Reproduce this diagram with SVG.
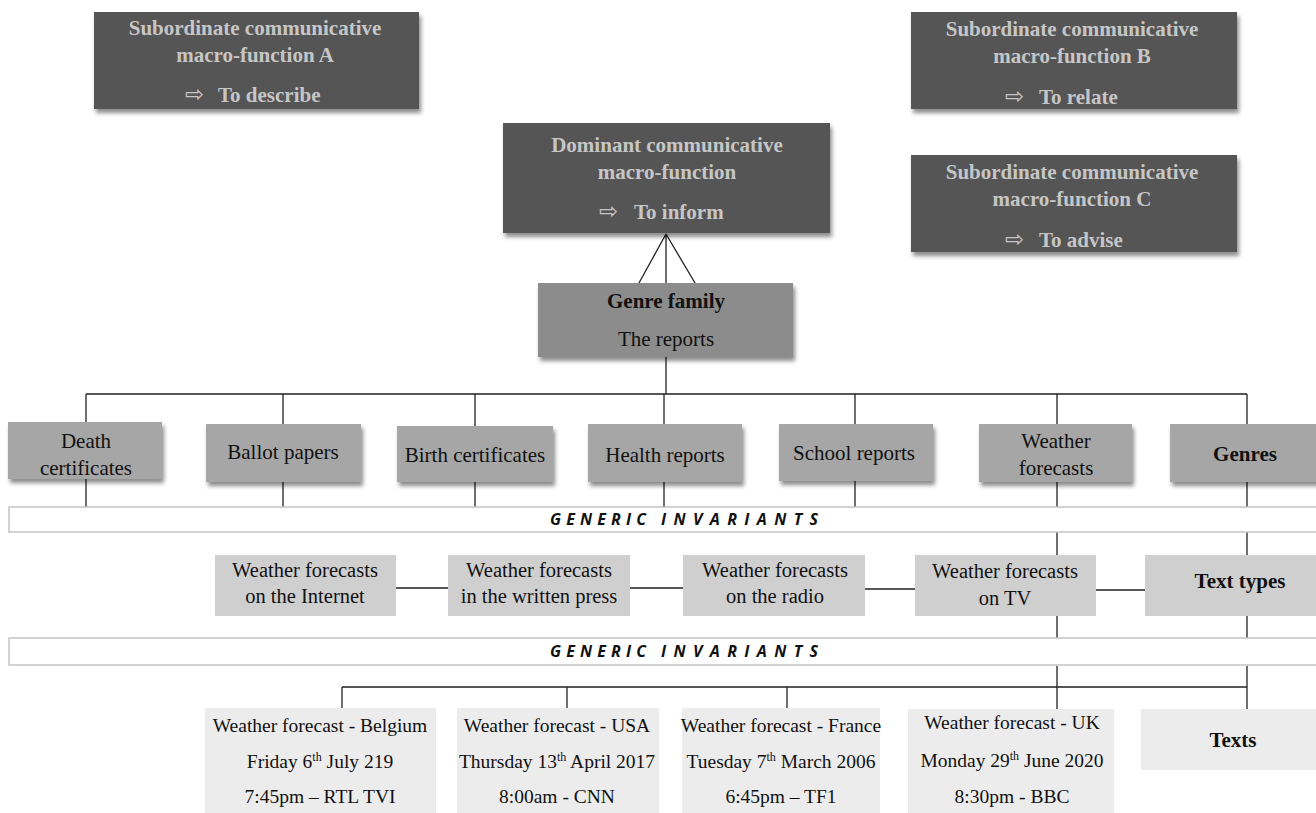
<svg xmlns="http://www.w3.org/2000/svg" width="1316" height="813" viewBox="0 0 1316 813">
<defs>
<filter id="sh" x="-10%" y="-10%" width="130%" height="140%">
<feDropShadow dx="2" dy="4" stdDeviation="2" flood-color="#000" flood-opacity="0.45"/>
</filter>
<style>
.dark{fill:#545454;filter:url(#sh)}
.fam{fill:#8c8c8c;filter:url(#sh)}
.gen{fill:#a6a6a6;filter:url(#sh)}
.tt{fill:#d0cfd0}
.tx{fill:#ececec}
.band{fill:#fff;stroke:#c4c4c4;stroke-width:1.5}
.dt{font-family:"Liberation Serif","Times New Roman",serif;font-weight:bold;font-size:21px;fill:#c6c6c6;text-anchor:middle}
.dl{font-family:"Liberation Serif","Times New Roman",serif;font-weight:bold;font-size:21px;fill:#c6c6c6}
.ar{font-family:"DejaVu Sans",sans-serif;font-size:23px;fill:#c6c6c6}
.t21{font-family:"Liberation Serif","Times New Roman",serif;font-size:21px;fill:#111;text-anchor:middle}
.t20{font-family:"Liberation Serif","Times New Roman",serif;font-size:20.5px;fill:#111;text-anchor:middle}
.t19{font-family:"Liberation Serif","Times New Roman",serif;font-size:19.5px;fill:#111;text-anchor:middle}
.b{font-weight:bold}
.sup{font-size:12px}
.inv{font-family:"Open Sans","Liberation Sans",sans-serif;font-weight:bold;font-style:italic;font-size:16px;fill:#111}
.ln{stroke:#222;stroke-width:1.3;fill:none}
</style>
</defs>
<rect width="1316" height="813" fill="#fff"/>

<g id="connectors">
<path class="ln" d="M666 234 L639 283 M666 234 L666 283 M666 234 L695 283"/>
<path class="ln" d="M666 345 L666 394 M86 394 L1247 394"/>
<path class="ln" d="M86 394 V422 M283 394 V424 M475 394 V426 M664 394 V424 M855 394 V424 M1057 394 V424 M1247 394 V424"/>
<path class="ln" d="M86 479 V507 M283 482 V507 M475 482 V507 M664 482 V507 M855 481 V507 M1057 482 V507 M1247 482 V507"/>
<path class="ln" d="M1057 532 V556 M1247 532 V556"/>
<path class="ln" d="M396 588 H448 M630 588 H683 M865 589 H915 M1096 590 H1145"/>
<path class="ln" d="M1057 616 V638 M1247 616 V638"/>
<path class="ln" d="M1057 666 V709 M1247 666 V709 M342 687 H1247 M342 687 V711 M567 687 V713 M787 687 V713"/>
</g>

<g id="bands">
<rect class="band" x="9" y="507" width="1320" height="25"/>
<text class="inv" x="550" y="525" textLength="96" lengthAdjust="spacing">GENERIC</text>
<text class="inv" x="661" y="525" textLength="157" lengthAdjust="spacing">INVARIANTS</text>
<rect class="band" x="9" y="638" width="1320" height="27"/>
<text class="inv" x="550" y="657" textLength="96" lengthAdjust="spacing">GENERIC</text>
<text class="inv" x="661" y="657" textLength="157" lengthAdjust="spacing">INVARIANTS</text>
</g>

<g id="funcA">
<rect class="dark" x="94" y="12" width="325" height="97"/>
<text class="dt" x="255" y="35">Subordinate communicative</text>
<text class="dt" x="255" y="62">macro-function A</text>
<text class="ar" x="185" y="102">⇨</text>
<text class="dl" x="218" y="102">To describe</text>
</g>
<g id="funcB">
<rect class="dark" x="911" y="12" width="326" height="97"/>
<text class="dt" x="1072" y="36">Subordinate communicative</text>
<text class="dt" x="1072" y="63">macro-function B</text>
<text class="ar" x="1005" y="104">⇨</text>
<text class="dl" x="1039" y="104">To relate</text>
</g>
<g id="funcC">
<rect class="dark" x="911" y="155" width="326" height="97"/>
<text class="dt" x="1072" y="179">Subordinate communicative</text>
<text class="dt" x="1072" y="206">macro-function C</text>
<text class="ar" x="1005" y="247">⇨</text>
<text class="dl" x="1039" y="247">To advise</text>
</g>
<g id="dominant">
<rect class="dark" x="503" y="123" width="327" height="110"/>
<text class="dt" x="667" y="152">Dominant communicative</text>
<text class="dt" x="667" y="179">macro-function</text>
<text class="ar" x="599" y="219">⇨</text>
<text class="dl" x="634" y="219">To inform</text>
</g>
<g id="family">
<rect class="fam" x="538" y="283" width="255" height="74"/>
<text class="t21 b" x="666" y="308">Genre family</text>
<text class="t21" x="666" y="346">The reports</text>
</g>

<g id="death"><rect class="gen" x="8" y="422" width="154" height="57"/>
<text class="t21" x="86" y="448">Death</text><text class="t21" x="86" y="475">certificates</text></g>
<g id="ballot"><rect class="gen" x="206" y="424" width="155" height="58"/>
<text class="t21" x="283" y="459">Ballot papers</text></g>
<g id="birth"><rect class="gen" x="397" y="426" width="156" height="56"/>
<text class="t21" x="475" y="462">Birth certificates</text></g>
<g id="health"><rect class="gen" x="588" y="424" width="154" height="58"/>
<text class="t21" x="665" y="462">Health reports</text></g>
<g id="school"><rect class="gen" x="779" y="424" width="154" height="57"/>
<text class="t21" x="854" y="460">School reports</text></g>
<g id="weather"><rect class="gen" x="979" y="424" width="153" height="58"/>
<text class="t21" x="1056" y="448">Weather</text><text class="t21" x="1056" y="475">forecasts</text></g>
<g id="genres"><rect class="gen" x="1170" y="424" width="152" height="58"/>
<text class="t21 b" x="1245" y="461">Genres</text></g>

<g id="internet"><rect class="tt" x="215" y="555" width="181" height="61"/>
<text class="t20" x="305" y="577">Weather forecasts</text><text class="t20" x="305" y="603">on the Internet</text></g>
<g id="press"><rect class="tt" x="448" y="555" width="182" height="61"/>
<text class="t20" x="539" y="577">Weather forecasts</text><text class="t20" x="539" y="603">in the written press</text></g>
<g id="radio"><rect class="tt" x="683" y="555" width="182" height="61"/>
<text class="t20" x="775" y="577">Weather forecasts</text><text class="t20" x="775" y="603">on the radio</text></g>
<g id="tv"><rect class="tt" x="915" y="555" width="181" height="61"/>
<text class="t20" x="1005" y="578">Weather forecasts</text><text class="t20" x="1005" y="605">on TV</text></g>
<g id="texttypes"><rect class="tt" x="1145" y="555" width="175" height="61"/>
<text class="t21 b" x="1240" y="588">Text types</text></g>

<g id="belgium"><rect class="tx" x="205" y="708" width="231" height="110"/>
<text class="t19" x="320" y="732">Weather forecast - Belgium</text>
<text class="t19" x="320" y="768">Friday 6<tspan class="sup" dy="-7">th</tspan><tspan dy="7"> July 219</tspan></text>
<text class="t19" x="320" y="803">7:45pm – RTL TVI</text></g>
<g id="usa"><rect class="tx" x="457" y="708" width="202" height="110"/>
<text class="t19" x="557" y="732">Weather forecast - USA</text>
<text class="t19" x="557" y="768">Thursday 13<tspan class="sup" dy="-7">th</tspan><tspan dy="7"> April 2017</tspan></text>
<text class="t19" x="557" y="803">8:00am - CNN</text></g>
<g id="france"><rect class="tx" x="682" y="708" width="198" height="110"/>
<text class="t19" x="781" y="732">Weather forecast - France</text>
<text class="t19" x="781" y="768">Tuesday 7<tspan class="sup" dy="-7">th</tspan><tspan dy="7"> March 2006</tspan></text>
<text class="t19" x="781" y="803">6:45pm – TF1</text></g>
<g id="uk"><rect class="tx" x="908" y="709" width="206" height="110"/>
<text class="t19" x="1012" y="729">Weather forecast - UK</text>
<text class="t19" x="1012" y="767">Monday 29<tspan class="sup" dy="-7">th</tspan><tspan dy="7"> June 2020</tspan></text>
<text class="t19" x="1012" y="803">8:30pm - BBC</text></g>
<g id="texts"><rect class="tx" x="1141" y="709" width="180" height="61"/>
<text class="t21 b" x="1233" y="747">Texts</text></g>
</svg>
